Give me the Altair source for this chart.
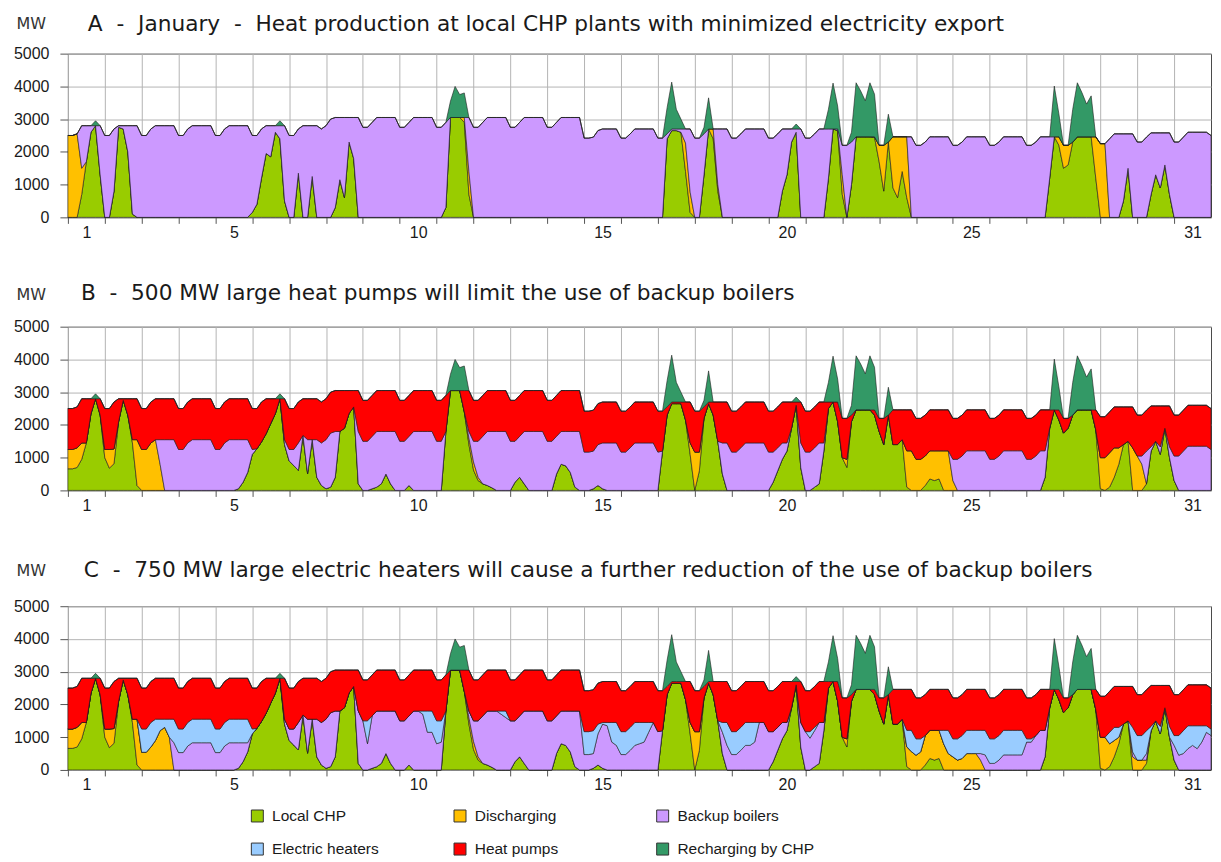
import altair as alt
import pandas as pd

# ---------------------------------------------------------------------------
# Time axis: hours of January, one reading every 3 hours (8 readings per day)
# ---------------------------------------------------------------------------
hours = list(range(0, 745, 3))

# Heat demand (MW) - top of the heat production stack (same in all panels)
demand = [
    2500, 2500, 2550, 2800, 2800, 2800, 2800, 2800,  # 1
    2500, 2500, 2700, 2800, 2800, 2800, 2800, 2800,  # 2
    2500, 2500, 2700, 2800, 2800, 2800, 2800, 2800,  # 3
    2500, 2500, 2700, 2800, 2800, 2800, 2800, 2800,  # 4
    2500, 2500, 2700, 2800, 2800, 2800, 2800, 2800,  # 5
    2500, 2500, 2700, 2800, 2800, 2800, 2800, 2800,  # 6
    2500, 2500, 2700, 2800, 2800, 2800, 2800, 2700,  # 7
    2800, 3000, 3050, 3050, 3050, 3050, 3050, 3050,  # 8
    2750, 2750, 2900, 3050, 3050, 3050, 3050, 3050,  # 9
    2750, 2750, 2900, 3050, 3050, 3050, 3050, 3050,  # 10
    2750, 2750, 2900, 3050, 3050, 3050, 3050, 3050,  # 11
    2750, 2750, 2900, 3050, 3050, 3050, 3050, 3050,  # 12
    2750, 2750, 2900, 3050, 3050, 3050, 3050, 3050,  # 13
    2750, 2750, 2900, 3050, 3050, 3050, 3050, 3050,  # 14
    2420, 2420, 2450, 2650, 2700, 2700, 2700, 2700,  # 15
    2420, 2420, 2550, 2700, 2700, 2700, 2700, 2700,  # 16
    2420, 2420, 2550, 2700, 2700, 2700, 2700, 2700,  # 17
    2420, 2420, 2550, 2700, 2700, 2700, 2700, 2700,  # 18
    2420, 2420, 2550, 2700, 2700, 2700, 2700, 2700,  # 19
    2420, 2420, 2550, 2700, 2700, 2700, 2700, 2700,  # 20
    2420, 2420, 2550, 2700, 2700, 2700, 2700, 2700,  # 21
    2200, 2200, 2300, 2460, 2460, 2460, 2460, 2460,  # 22
    2200, 2200, 2300, 2460, 2460, 2460, 2460, 2460,  # 23
    2200, 2200, 2300, 2460, 2460, 2460, 2460, 2460,  # 24
    2200, 2200, 2300, 2460, 2460, 2460, 2460, 2460,  # 25
    2200, 2200, 2300, 2460, 2460, 2460, 2460, 2460,  # 26
    2200, 2200, 2300, 2460, 2460, 2460, 2460, 2460,  # 27
    2200, 2200, 2300, 2460, 2460, 2460, 2460, 2460,  # 28
    2250, 2250, 2400, 2550, 2550, 2550, 2550, 2550,  # 29
    2300, 2300, 2450, 2580, 2580, 2580, 2580, 2580,  # 30
    2300, 2300, 2450, 2600, 2600, 2600, 2600, 2600,  # 31
    2500,
]

# Recharging of storage by CHP (MW above demand, same in all panels)
recharge = [
    0, 0, 0, 0, 0, 0, 150, 0,  # 1
    0, 0, 0, 0, 0, 0, 0, 0,  # 2
    0, 0, 0, 0, 0, 0, 0, 0,  # 3
    0, 0, 0, 0, 0, 0, 0, 0,  # 4
    0, 0, 0, 0, 0, 0, 0, 0,  # 5
    0, 0, 0, 0, 0, 0, 150, 0,  # 6
    0, 0, 0, 0, 0, 0, 0, 0,  # 7
    0, 0, 0, 0, 0, 0, 0, 0,  # 8
    0, 0, 0, 0, 0, 0, 0, 0,  # 9
    0, 0, 0, 0, 0, 0, 0, 0,  # 10
    0, 0, 0, 500, 950, 700, 750, 0,  # 11
    0, 0, 0, 0, 0, 0, 0, 0,  # 12
    0, 0, 0, 0, 0, 0, 0, 0,  # 13
    0, 0, 0, 0, 0, 0, 0, 0,  # 14
    0, 0, 0, 0, 0, 0, 0, 0,  # 15
    0, 0, 0, 0, 0, 0, 0, 0,  # 16
    0, 0, 800, 1430, 600, 300, 0, 0,  # 17
    0, 0, 200, 950, 0, 0, 0, 0,  # 18
    0, 0, 0, 0, 0, 0, 0, 0,  # 19
    0, 0, 0, 0, 0, 0, 150, 0,  # 20
    0, 0, 0, 0, 0, 600, 1400, 700,  # 21
    0, 0, 300, 1650, 1400, 1100, 1650, 1300,  # 22
    0, 0, 850, 0, 0, 0, 0, 0,  # 23
    0, 0, 0, 0, 0, 0, 0, 0,  # 24
    0, 0, 0, 0, 0, 0, 0, 0,  # 25
    0, 0, 0, 0, 0, 0, 0, 0,  # 26
    0, 0, 0, 0, 0, 0, 1550, 700,  # 27
    0, 0, 1000, 1650, 1350, 1000, 1250, 0,  # 28
    0, 0, 0, 0, 0, 0, 0, 0,  # 29
    0, 0, 0, 0, 0, 0, 0, 0,  # 30
    0, 0, 0, 0, 0, 0, 0, 0,  # 31
    0,
]

# Panel A - local CHP and storage discharging
chp_a = [
    0, 0, 0, 700, 1700, 2600, 2800, 1300,  # 1
    0, 0, 800, 2750, 2700, 2000, 100, 0,  # 2
    0, 0, 0, 0, 0, 0, 0, 0,  # 3
    0, 0, 0, 0, 0, 0, 0, 0,  # 4
    0, 0, 0, 0, 0, 0, 0, 0,  # 5
    150, 400, 1200, 1950, 1850, 2600, 2400, 500,  # 6
    0, 0, 1350, 0, 0, 1250, 0, 0,  # 7
    0, 0, 300, 1150, 600, 2300, 1800, 0,  # 8
    0, 0, 0, 0, 0, 0, 0, 0,  # 9
    0, 0, 0, 0, 0, 0, 0, 0,  # 10
    0, 0, 300, 3050, 3050, 3050, 2900, 700,  # 11
    0, 0, 0, 0, 0, 0, 0, 0,  # 12
    0, 0, 0, 0, 0, 0, 0, 0,  # 13
    0, 0, 0, 0, 0, 0, 0, 0,  # 14
    0, 0, 0, 0, 0, 0, 0, 0,  # 15
    0, 0, 0, 0, 0, 0, 0, 0,  # 16
    0, 0, 2400, 2650, 2650, 2600, 1400, 150,  # 17
    0, 0, 1300, 2700, 2400, 800, 0, 0,  # 18
    0, 0, 0, 0, 0, 0, 0, 0,  # 19
    0, 0, 0, 800, 1300, 2300, 2600, 0,  # 20
    0, 0, 0, 0, 0, 1200, 2700, 2650,  # 21
    700, 0, 1000, 2460, 2460, 2460, 2460, 2450,  # 22
    1700, 800, 2300, 900, 600, 1400, 600, 0,  # 23
    0, 0, 0, 0, 0, 0, 0, 0,  # 24
    0, 0, 0, 0, 0, 0, 0, 0,  # 25
    0, 0, 0, 0, 0, 0, 0, 0,  # 26
    0, 0, 0, 0, 0, 1200, 2460, 2200,  # 27
    1500, 1600, 2300, 2460, 2460, 2460, 2460, 1200,  # 28
    0, 0, 0, 0, 0, 500, 1500, 0,  # 29
    0, 0, 0, 700, 1300, 900, 1600, 700,  # 30
    0, 0, 0, 0, 0, 0, 0, 0,  # 31
    0,
]

dis_a = [
    2500, 2500, 2550, 800, 0, 0, 0, 0,  # 1
    0, 0, 0, 0, 0, 0, 0, 0,  # 2
    0, 0, 0, 0, 0, 0, 0, 0,  # 3
    0, 0, 0, 0, 0, 0, 0, 0,  # 4
    0, 0, 0, 0, 0, 0, 0, 0,  # 5
    0, 0, 0, 0, 0, 0, 0, 0,  # 6
    0, 0, 0, 0, 0, 0, 0, 0,  # 7
    0, 0, 0, 0, 0, 0, 0, 0,  # 8
    0, 0, 0, 0, 0, 0, 0, 0,  # 9
    0, 0, 0, 0, 0, 0, 0, 0,  # 10
    0, 0, 0, 0, 0, 0, 150, 700,  # 11
    0, 0, 0, 0, 0, 0, 0, 0,  # 12
    0, 0, 0, 0, 0, 0, 0, 0,  # 13
    0, 0, 0, 0, 0, 0, 0, 0,  # 14
    0, 0, 0, 0, 0, 0, 0, 0,  # 15
    0, 0, 0, 0, 0, 0, 0, 0,  # 16
    0, 0, 0, 0, 0, 0, 870, 620,  # 17
    0, 0, 0, 0, 300, 200, 0, 0,  # 18
    0, 0, 0, 0, 0, 0, 0, 0,  # 19
    0, 0, 0, 0, 0, 0, 0, 0,  # 20
    0, 0, 0, 0, 0, 0, 0, 0,  # 21
    600, 0, 0, 0, 0, 0, 0, 0,  # 22
    500, 1400, 0, 1560, 1860, 1060, 1860, 0,  # 23
    0, 0, 0, 0, 0, 0, 0, 0,  # 24
    0, 0, 0, 0, 0, 0, 0, 0,  # 25
    0, 0, 0, 0, 0, 0, 0, 0,  # 26
    0, 0, 0, 0, 0, 0, 0, 260,  # 27
    700, 600, 0, 0, 0, 0, 0, 1260,  # 28
    2250, 2250, 0, 0, 0, 0, 0, 0,  # 29
    0, 0, 0, 0, 0, 0, 0, 0,  # 30
    0, 0, 0, 0, 0, 0, 0, 0,  # 31
    0,
]

# Panels B and C - local CHP (same in both)
chp_bc = [
    660, 660, 700, 950, 1450, 2340, 2800, 2300,  # 1
    1000, 680, 815, 2100, 2750, 2300, 1450, 150,  # 2
    0, 0, 0, 0, 0, 0, 0, 0,  # 3
    0, 0, 0, 0, 0, 0, 0, 0,  # 4
    0, 0, 0, 0, 0, 50, 250, 550,  # 5
    1100, 1270, 1480, 1730, 2040, 2340, 2800, 1400,  # 6
    900, 760, 610, 1680, 510, 1550, 400, 150,  # 7
    50, 100, 400, 1800, 1900, 2350, 2550, 200,  # 8
    0, 0, 50, 100, 200, 500, 200, 0,  # 9
    0, 0, 150, 0, 0, 0, 0, 0,  # 10
    0, 0, 1800, 3050, 3050, 3050, 2400, 1400,  # 11
    620, 300, 200, 150, 80, 0, 0, 0,  # 12
    0, 250, 400, 200, 0, 0, 0, 0,  # 13
    0, 0, 500, 800, 750, 550, 100, 0,  # 14
    0, 0, 50, 150, 50, 0, 0, 0,  # 15
    0, 0, 0, 0, 0, 0, 0, 0,  # 16
    0, 1200, 2300, 2650, 2650, 2650, 2150, 1100,  # 17
    0, 600, 2200, 2650, 2300, 1500, 500, 0,  # 18
    0, 0, 0, 0, 0, 0, 0, 0,  # 19
    0, 250, 600, 950, 1200, 1900, 2600, 700,  # 20
    0, 0, 100, 200, 1200, 2500, 2700, 2100,  # 21
    1000, 700, 2100, 2460, 2460, 2460, 2460, 2300,  # 22
    1800, 1400, 2300, 1400, 1400, 1550, 100, 0,  # 23
    0, 0, 150, 350, 300, 350, 0, 0,  # 24
    0, 0, 0, 0, 0, 0, 0, 0,  # 25
    0, 0, 0, 0, 0, 0, 0, 0,  # 26
    0, 0, 0, 0, 400, 1900, 2460, 2150,  # 27
    1750, 1900, 2300, 2460, 2460, 2460, 2460, 1850,  # 28
    50, 0, 100, 400, 800, 1400, 1500, 0,  # 29
    0, 0, 200, 1200, 1500, 1100, 1900, 1000,  # 30
    300, 0, 0, 0, 0, 0, 0, 0,  # 31
    0,
]

# Panels B and C - large heat pumps (same in both)
heat_pumps = [
    1250, 1250, 1250, 1350, 1350, 460, 0, 500,  # 1
    1250, 1250, 1435, 700, 50, 500, 1250, 1250,  # 2
    1250, 1250, 1250, 1250, 1250, 1250, 1250, 1250,  # 3
    1250, 1250, 1250, 1250, 1250, 1250, 1250, 1250,  # 4
    1250, 1250, 1250, 1250, 1250, 1250, 1250, 1250,  # 5
    1250, 1230, 1220, 1070, 760, 460, 0, 1250,  # 6
    1250, 1250, 1250, 1120, 1250, 1250, 1250, 1250,  # 7
    1250, 1250, 1250, 1250, 1150, 700, 500, 1250,  # 8
    1250, 1250, 1250, 1250, 1250, 1250, 1250, 1250,  # 9
    1250, 1250, 1250, 1250, 1250, 1250, 1250, 1250,  # 10
    1250, 1250, 1100, 0, 0, 0, 650, 1250,  # 11
    1250, 1250, 1250, 1250, 1250, 1250, 1250, 1250,  # 12
    1250, 1250, 1250, 1250, 1250, 1250, 1250, 1250,  # 13
    1250, 1250, 1250, 1250, 1250, 1250, 1250, 1250,  # 14
    1250, 1250, 1250, 1250, 1250, 1250, 1250, 1250,  # 15
    1250, 1250, 1250, 1250, 1250, 1250, 1250, 1250,  # 16
    1250, 1220, 250, 50, 50, 50, 550, 1250,  # 17
    1250, 1250, 350, 50, 400, 1200, 1250, 1250,  # 18
    1250, 1250, 1250, 1250, 1250, 1250, 1250, 1250,  # 19
    1250, 1250, 1250, 1250, 1250, 800, 100, 1250,  # 20
    1250, 1250, 1250, 1250, 1250, 200, 0, 600,  # 21
    1200, 1250, 200, 0, 0, 0, 0, 160,  # 22
    400, 800, 0, 1060, 1060, 910, 1250, 1250,  # 23
    1250, 1250, 1250, 1250, 1250, 1250, 1250, 1250,  # 24
    1250, 1250, 1250, 1250, 1250, 1250, 1250, 1250,  # 25
    1250, 1250, 1250, 1250, 1250, 1250, 1250, 1250,  # 26
    1250, 1250, 1250, 1250, 1250, 560, 0, 310,  # 27
    450, 300, 0, 0, 0, 0, 0, 610,  # 28
    1250, 1250, 1250, 1250, 1250, 1150, 1050, 1250,  # 29
    1250, 1250, 1250, 1250, 1080, 1250, 680, 1250,  # 30
    1250, 1250, 1250, 1250, 1250, 1250, 1250, 1250,  # 31
    1250,
]

# Panel B - storage discharging
dis_b = [
    590, 590, 600, 500, 0, 0, 0, 0,  # 1
    250, 570, 450, 0, 0, 0, 100, 1400,  # 2
    1250, 1250, 1450, 1550, 800, 0, 0, 0,  # 3
    0, 0, 0, 0, 0, 0, 0, 0,  # 4
    0, 0, 0, 0, 0, 0, 0, 0,  # 5
    0, 0, 0, 0, 0, 0, 0, 0,  # 6
    0, 0, 0, 0, 0, 0, 0, 0,  # 7
    0, 0, 0, 0, 0, 0, 0, 0,  # 8
    0, 0, 0, 0, 0, 0, 0, 0,  # 9
    0, 0, 0, 0, 0, 0, 0, 0,  # 10
    0, 0, 0, 0, 0, 0, 0, 200,  # 11
    250, 100, 0, 0, 0, 0, 0, 0,  # 12
    0, 0, 0, 0, 0, 0, 0, 0,  # 13
    0, 0, 0, 0, 0, 0, 0, 0,  # 14
    0, 0, 0, 0, 0, 0, 0, 0,  # 15
    0, 0, 0, 0, 0, 0, 0, 0,  # 16
    0, 0, 0, 0, 0, 0, 0, 350,  # 17
    1170, 570, 0, 0, 0, 0, 0, 0,  # 18
    0, 0, 0, 0, 0, 0, 0, 0,  # 19
    0, 0, 0, 0, 0, 0, 0, 0,  # 20
    0, 0, 0, 0, 0, 0, 0, 0,  # 21
    0, 250, 0, 0, 0, 0, 0, 0,  # 22
    0, 0, 0, 0, 0, 0, 1110, 1210,  # 23
    950, 950, 900, 860, 910, 860, 1210, 1210,  # 24
    300, 0, 0, 0, 0, 0, 0, 0,  # 25
    0, 0, 0, 0, 0, 0, 0, 0,  # 26
    0, 0, 0, 0, 0, 0, 0, 0,  # 27
    0, 0, 0, 0, 0, 0, 0, 0,  # 28
    950, 1000, 1050, 900, 500, 0, 0, 1300,  # 29
    1050, 800, 0, 0, 0, 0, 0, 0,  # 30
    0, 0, 0, 0, 0, 0, 0, 0,  # 31
    0,
]

# Panel C - storage discharging
dis_c = [
    590, 590, 600, 500, 0, 0, 0, 0,  # 1
    250, 570, 450, 0, 0, 0, 100, 1400,  # 2
    540, 540, 700, 900, 1200, 1300, 1000, 0,  # 3
    0, 0, 0, 0, 0, 0, 0, 0,  # 4
    0, 0, 0, 0, 0, 0, 0, 0,  # 5
    0, 0, 0, 0, 0, 0, 0, 0,  # 6
    0, 0, 0, 0, 0, 0, 0, 0,  # 7
    0, 0, 0, 0, 0, 0, 0, 0,  # 8
    0, 0, 0, 0, 0, 0, 0, 0,  # 9
    0, 0, 0, 0, 0, 0, 0, 0,  # 10
    0, 0, 0, 0, 0, 0, 0, 200,  # 11
    250, 100, 0, 0, 0, 0, 0, 0,  # 12
    0, 0, 0, 0, 0, 0, 0, 0,  # 13
    0, 0, 0, 0, 0, 0, 0, 0,  # 14
    0, 0, 0, 0, 0, 0, 0, 0,  # 15
    0, 0, 0, 0, 0, 0, 0, 0,  # 16
    0, 0, 0, 0, 0, 0, 0, 350,  # 17
    1170, 570, 0, 0, 0, 0, 0, 0,  # 18
    0, 0, 0, 0, 0, 0, 0, 0,  # 19
    0, 0, 0, 0, 0, 0, 0, 0,  # 20
    0, 0, 0, 0, 0, 0, 0, 0,  # 21
    0, 250, 0, 0, 0, 0, 0, 0,  # 22
    0, 0, 0, 0, 0, 0, 600, 560,  # 23
    450, 550, 900, 860, 910, 860, 800, 500,  # 24
    400, 300, 350, 500, 500, 500, 300, 0,  # 25
    0, 0, 0, 0, 0, 0, 0, 0,  # 26
    0, 0, 0, 0, 0, 0, 0, 0,  # 27
    0, 0, 0, 0, 0, 0, 0, 0,  # 28
    950, 1000, 700, 500, 200, 0, 0, 400,  # 29
    300, 300, 100, 0, 0, 0, 0, 0,  # 30
    0, 0, 0, 0, 0, 0, 0, 0,  # 31
    0,
]

# Panel C - large electric heaters
elec_heaters = [
    0, 0, 0, 0, 0, 0, 0, 0,  # 1
    0, 0, 0, 0, 0, 0, 0, 0,  # 2
    710, 710, 750, 650, 350, 250, 550, 720,  # 3
    720, 720, 720, 720, 720, 720, 720, 720,  # 4
    720, 720, 720, 720, 720, 720, 720, 720,  # 5
    150, 0, 0, 0, 0, 0, 0, 0,  # 6
    0, 0, 0, 0, 0, 0, 0, 0,  # 7
    0, 0, 0, 0, 0, 0, 0, 0,  # 8
    0, 700, 0, 0, 0, 0, 0, 0,  # 9
    0, 0, 0, 0, 0, 100, 650, 650,  # 10
    700, 650, 0, 0, 0, 0, 0, 0,  # 11
    0, 0, 0, 0, 0, 0, 100, 200,  # 12
    0, 0, 0, 0, 0, 0, 0, 0,  # 13
    0, 0, 0, 0, 0, 0, 0, 0,  # 14
    700, 700, 700, 300, 50, 100, 600, 700,  # 15
    700, 700, 700, 700, 650, 600, 300, 0,  # 16
    0, 0, 0, 0, 0, 0, 0, 0,  # 17
    0, 0, 0, 0, 0, 0, 300, 700,  # 18
    700, 700, 700, 700, 700, 600, 0, 0,  # 19
    0, 0, 0, 0, 0, 0, 0, 0,  # 20
    0, 200, 100, 0, 0, 0, 0, 0,  # 21
    0, 0, 0, 0, 0, 0, 0, 0,  # 22
    0, 0, 0, 0, 0, 0, 500, 650,  # 23
    500, 400, 0, 0, 0, 0, 410, 710,  # 24
    550, 650, 700, 710, 710, 710, 710, 750,  # 25
    750, 750, 750, 750, 750, 750, 750, 750,  # 26
    100, 100, 0, 0, 0, 0, 0, 0,  # 27
    0, 0, 0, 0, 0, 0, 0, 0,  # 28
    0, 0, 350, 400, 300, 0, 0, 750,  # 29
    750, 750, 700, 130, 0, 230, 0, 330,  # 30
    300, 600, 700, 700, 600, 700, 500, 200,  # 31
    200,
]

SERIES = ["Local CHP", "Discharging", "Backup boilers",
          "Electric heaters", "Heat pumps", "Recharging by CHP"]
COLORS = ["#99CC00", "#FFC000", "#CC99FF", "#99CCFF", "#FF0000", "#339966"]

day_edges = list(range(0, 721, 24))
label_days = [1, 5, 10, 15, 20, 25, 31]
y_ticks = [0, 1000, 2000, 3000, 4000, 5000]

FONT = "Liberation Sans, Arial, sans-serif"
TFONT = "DejaVu Sans, Verdana, sans-serif"


def backup(*parts):
    # backup boilers cover the rest of the demand
    return [max(0, d - sum(p[i] for p in parts)) for i, d in enumerate(demand)]


def frame(parts):
    rows = []
    for name, vals in parts:
        for h, v in zip(hours, vals):
            rows.append({"hour": h, "series": name, "mw": v, "ord": SERIES.index(name)})
    return pd.DataFrame(rows)


df_a = frame([
    ("Local CHP", chp_a), ("Discharging", dis_a),
    ("Backup boilers", backup(chp_a, dis_a)), ("Recharging by CHP", recharge)])
df_b = frame([
    ("Local CHP", chp_bc), ("Discharging", dis_b),
    ("Backup boilers", backup(chp_bc, dis_b, heat_pumps)),
    ("Heat pumps", heat_pumps), ("Recharging by CHP", recharge)])
df_c = frame([
    ("Local CHP", chp_bc), ("Discharging", dis_c),
    ("Backup boilers", backup(chp_bc, dis_c, elec_heaters, heat_pumps)),
    ("Electric heaters", elec_heaters), ("Heat pumps", heat_pumps),
    ("Recharging by CHP", recharge)])

label_expr = ("indexof(" + str(label_days) + ", datum.value / 24 + 1) >= 0 ? "
              "'' + (datum.value / 24 + 1) : ''")


def panel(df, title, dx, t_off, mw_y, legend):
    return alt.Chart(df).mark_area(
        stroke="#1e1e1e", strokeWidth=0.6, interpolate="linear", opacity=1
    ).encode(
        x=alt.X("hour:Q", scale=alt.Scale(domain=[0, 744], nice=False, zero=False),
                axis=alt.Axis(values=day_edges, grid=True, gridColor="#b4b4b4", gridWidth=1,
                              labelExpr=label_expr, labelOffset=18.5, labelFontSize=16,
                              labelFont=FONT, labelColor="#1a1a1a", labelOverlap=False,
                              labelFlush=False, labelPadding=1, tickSize=6, tickColor="#555",
                              domain=False, title=None)),
        y=alt.Y("mw:Q", stack="zero", scale=alt.Scale(domain=[0, 5000], nice=False),
                axis=alt.Axis(values=y_ticks, format="d", grid=True, gridColor="#b4b4b4",
                              gridWidth=1, labelFontSize=16, labelFont=FONT,
                              labelColor="#1a1a1a", tickSize=8, tickColor="#555",
                              domain=False, labelPadding=11,
                              title="MW", titleAngle=0, titleAlign="left",
                              titleBaseline="middle", titleX=-52, titleY=mw_y,
                              titleFontSize=16, titleFontWeight="normal", titleFont=TFONT,
                              titleColor="#333333")),
        color=alt.Color("series:N", scale=alt.Scale(domain=SERIES, range=COLORS),
                        sort=SERIES, legend=legend),
        order=alt.Order("ord:Q", sort="ascending"),
    ).properties(
        width=1145, height=164,
        title=alt.TitleParams(title, anchor="start", frame="group", dx=dx, offset=t_off,
                              fontSize=21.7, font=TFONT, fontWeight="normal", color="#1a1a1a"),
    )


legend_c = alt.Legend(
    orient="none", legendX=182, legendY=202, direction="horizontal", columns=3,
    gridAlign="all", columnPadding=42, rowPadding=15.5, symbolType="square",
    symbolSize=144, symbolStrokeColor="#333333", symbolStrokeWidth=1,
    symbolOpacity=1, labelFontSize=15.5, labelFont=FONT, labelColor="#1a1a1a",
    labelOffset=7, labelLimit=300, title=None,
)

NB = "\u00a0"
chart_a = panel(df_a, f"A{NB} -{NB} January{NB} -{NB} Heat production at local CHP plants with minimized electricity export",
                20, -20, -30, None)
chart_b = panel(df_b, f"B{NB} -{NB} 500 MW large heat pumps will limit the use of backup boilers",
                13, -18.3, -32, None)
chart_c = panel(df_c, f"C{NB} -{NB} 750 MW large electric heaters will cause a further reduction of the use of backup boilers",
                16, -19.5, -36, legend_c)

chart = alt.vconcat(
    alt.vconcat(chart_a, chart_b, spacing=41.5),
    chart_c, spacing=45.5,
).resolve_scale(color="independent").properties(
    padding={"left": 4, "top": 4, "right": 0, "bottom": 0},
    background="white",
).configure_view(stroke="#4a4a4a", strokeWidth=1)

chart.save("out.html", embed_options={"renderer": "svg", "actions": False})
